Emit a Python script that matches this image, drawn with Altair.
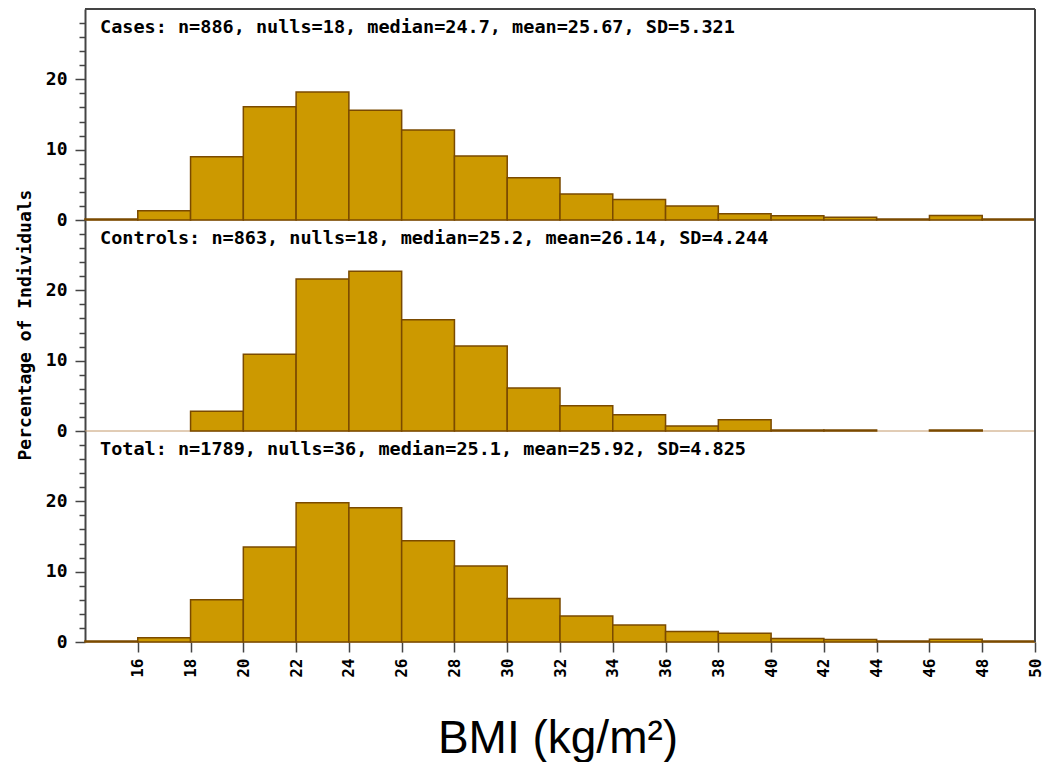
import altair as alt
import pandas as pd

# ---- data ----
bin_start = [14, 16, 18, 20, 22, 24, 26, 28, 30, 32, 34, 36, 38, 40, 42, 44, 46, 48]
bin_end = [16, 18, 20, 22, 24, 26, 28, 30, 32, 34, 36, 38, 40, 42, 44, 46, 48, 50]
cases = [0.15, 1.3, 9.0, 16.1, 18.2, 15.6, 12.8, 9.1, 6.0, 3.7, 2.9, 2.0, 0.9, 0.6, 0.4, 0.15, 0.65, 0.15]
controls = [0, 0, 2.8, 10.9, 21.6, 22.7, 15.8, 12.1, 6.1, 3.6, 2.3, 0.7, 1.6, 0.15, 0.15, 0, 0.15, 0]
total = [0.15, 0.6, 6.0, 13.5, 19.8, 19.1, 14.4, 10.8, 6.2, 3.7, 2.4, 1.5, 1.25, 0.5, 0.35, 0.15, 0.4, 0.15]
panel_labels = [
    "Cases: n=886, nulls=18, median=24.7, mean=25.67, SD=5.321",
    "Controls: n=863, nulls=18, median=25.2, mean=26.14, SD=4.244",
    "Total: n=1789, nulls=36, median=25.1, mean=25.92, SD=4.825",
]
x_ticks = list(range(16, 51, 2))
y_ticks = list(range(0, 29, 2))
y_title = "Percentage of Individuals"
x_title = "BMI (kg/m\u00b2)"

W, H = 950, 211
MONO = "DejaVu Sans Mono"
FILL = "#cc9900"
EDGE = "#7a4a00"
FRAME = "#444444"

one = pd.DataFrame({"a": [0]})


def panel(values, label, top=False, middle=False, bottom=False):
    df = pd.DataFrame({"start": bin_start, "end": bin_end, "pct": values})
    xscale = alt.Scale(domain=[14, 50], nice=False, zero=False)
    yscale = alt.Scale(domain=[0, 30], nice=False)
    if bottom:
        x_axis = alt.Axis(
            values=x_ticks, labelAngle=270, title=None, domain=False,
            tickColor=FRAME, tickWidth=1.5, tickSize=10, labelPadding=6,
            labelFont=MONO, labelFontSize=16, labelFontWeight="bold",
            labelColor="black", grid=False,
        )
    else:
        x_axis = None
    y_axis = alt.Axis(
        values=y_ticks,
        labelExpr="datum.value % 10 == 0 ? datum.label : ''",
        tickSize={"condition": {"test": "datum.value % 10 == 0", "value": 10}, "value": 6},
        title=None, domainColor=FRAME, domainWidth=2, tickColor=FRAME,
        tickWidth=1.5, labelFont=MONO, labelFontSize=18, labelFontWeight="bold",
        labelColor="black", labelPadding=8, grid=False,
    )

    base = alt.Chart(one).mark_rule(color="#c49a6c", strokeWidth=1).encode(
        x=alt.value(0), x2=alt.value(W), y=alt.value(H)
    )
    bars = (
        alt.Chart(df)
        .transform_filter("datum.pct > 0")
        .mark_rect(fill=FILL, stroke=EDGE, strokeWidth=1.5)
        .encode(
            x=alt.X("start:Q", scale=xscale, axis=x_axis),
            x2="end:Q",
            y=alt.Y("pct:Q", scale=yscale, axis=y_axis),
            y2=alt.datum(0),
        )
    )
    right = alt.Chart(one).mark_rule(color=FRAME, strokeWidth=2).encode(
        x=alt.value(W), y=alt.value(0), y2=alt.value(H)
    )
    ghost_l = alt.Chart(one).mark_rule(opacity=0, strokeWidth=1).encode(
        x=alt.value(-77), y=alt.value(100), y2=alt.value(101)
    )
    txt = alt.Chart(pd.DataFrame({"t": [label]})).mark_text(
        align="left", baseline="middle", font=MONO, fontSize=18.5,
        fontWeight="bold", color="black",
    ).encode(x=alt.value(15), y=alt.value(18), text="t:N")
    layers = [base, bars, right, ghost_l, txt]
    if top:
        layers.append(
            alt.Chart(one).mark_rule(color=FRAME, strokeWidth=2).encode(
                x=alt.value(0), x2=alt.value(W), y=alt.value(0)
            )
        )
    if middle:
        layers.append(
            alt.Chart(pd.DataFrame({"t": [y_title]})).mark_text(
                angle=270, align="center", baseline="middle", font=MONO,
                fontSize=18, fontWeight="bold", color="black",
            ).encode(x=alt.value(-59), y=alt.value(105), text="t:N")
        )
    if bottom:
        layers.append(
            alt.Chart(pd.DataFrame({"t": [x_title]})).mark_text(
                align="center", baseline="alphabetic", font="Liberation Sans",
                fontSize=46, color="black",
            ).encode(x=alt.value(473), y=alt.value(322), text="t:N")
        )
    return alt.layer(*layers).properties(width=W, height=H)


chart = (
    alt.vconcat(
        panel(cases, panel_labels[0], top=True),
        panel(controls, panel_labels[1], middle=True),
        panel(total, panel_labels[2], bottom=True),
        spacing=0,
        bounds="flush",
    )
    .properties(padding=0, background="white")
    .configure_view(stroke=None)
)

chart.save("out.html", embed_options={"renderer": "svg", "actions": False})
